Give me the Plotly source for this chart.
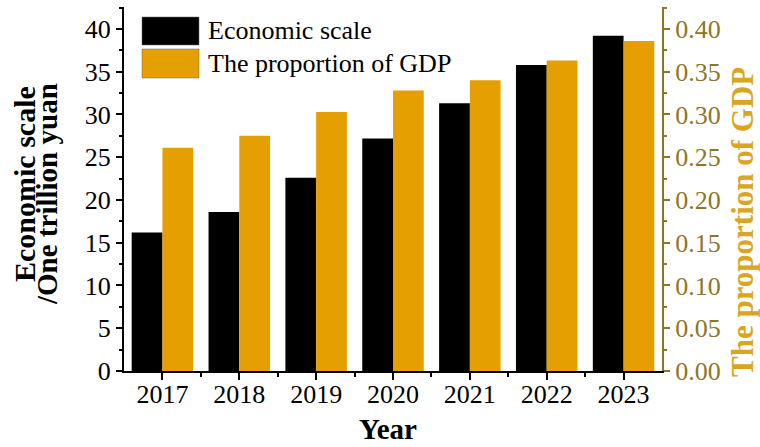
import plotly.graph_objects as go

years = [2017, 2018, 2019, 2020, 2021, 2022, 2023]
economic_scale = [16.2, 18.6, 22.6, 27.2, 31.3, 35.8, 39.2]
gdp_proportion = [0.261, 0.275, 0.303, 0.328, 0.340, 0.363, 0.386]
legend_labels = ["Economic scale", "The proportion of GDP"]

BLACK = "#000000"
ORANGE = "#E69F00"
GOLD_AXIS = "#8C7628"
GOLD_TITLE = "#DBA51E"
FONT = "Liberation Serif"

fig = go.Figure()
fig.add_trace(go.Bar(x=years, y=economic_scale, name=legend_labels[0],
                     marker=dict(color=BLACK, line=dict(width=0)),
                     offsetgroup="a", yaxis="y", showlegend=False))
fig.add_trace(go.Bar(x=years, y=gdp_proportion, name=legend_labels[1],
                     marker=dict(color=ORANGE, line=dict(width=0)),
                     offsetgroup="b", yaxis="y2", showlegend=False))

L, R, T, B = 124, 98, 7, 76
W, H = 760, 447
pw, ph = W - L - R, H - T - B

def px_x(x):
    return (x - L) / pw

def px_y(y):
    return (H - B - y) / ph

# manual legend (large swatches as in the reference)
for i, (lab, col) in enumerate(zip(legend_labels, [BLACK, ORANGE])):
    y0, y1 = [(17, 45), (49, 78)][i]
    fig.add_shape(type="rect", xref="paper", yref="paper",
                  x0=px_x(142), x1=px_x(199), y0=px_y(y1), y1=px_y(y0),
                  fillcolor=col, line=dict(color="#666666", width=0.5))
    fig.add_annotation(xref="paper", yref="paper", x=px_x(206), y=px_y((y0 + y1) / 2),
                       text=lab, showarrow=False, xanchor="left", yanchor="middle",
                       font=dict(family=FONT, size=26, color="black"))

# left axis title (two lines)
fig.add_annotation(xref="paper", yref="paper", x=px_x(24), y=px_y(184),
                   text="<b>Economic scale</b>", textangle=-90, showarrow=False,
                   xanchor="center", yanchor="middle",
                   font=dict(family=FONT, size=30, color="black"))
fig.add_annotation(xref="paper", yref="paper", x=px_x(47), y=px_y(194),
                   text="<b>/One trillion yuan</b>", textangle=-90, showarrow=False,
                   xanchor="center", yanchor="middle",
                   font=dict(family=FONT, size=29, color="black"))
# right axis title
fig.add_annotation(xref="paper", yref="paper", x=px_x(742), y=px_y(222),
                   text="<b>The proportion of GDP</b>", textangle=-90, showarrow=False,
                   xanchor="center", yanchor="middle",
                   font=dict(family=FONT, size=31, color=GOLD_TITLE))
# x axis title
fig.add_annotation(xref="paper", yref="paper", x=px_x(388), y=px_y(429),
                   text="<b>Year</b>", showarrow=False,
                   xanchor="center", yanchor="middle",
                   font=dict(family=FONT, size=29, color="black"))

fig.update_layout(
    width=W, height=H,
    margin=dict(l=L, r=R, t=T, b=B),
    paper_bgcolor="white", plot_bgcolor="white",
    barmode="group", bargap=0.2, bargroupgap=0,
    font=dict(family=FONT, size=26, color="black"),
    xaxis=dict(range=[2016.5, 2023.5], tickmode="array", tickvals=years,
               ticktext=[str(y) for y in years],
               showgrid=False, zeroline=False,
               showline=True, linecolor="black", linewidth=2,
               ticks="outside", ticklen=7, tickwidth=2, tickcolor="black",
               ticklabelstandoff=-8,
               minor=dict(tickmode="array", tickvals=[y + 0.5 for y in years[:-1]],
                          ticks="outside", ticklen=4, tickwidth=1.5, tickcolor="black"),
               tickfont=dict(family=FONT, size=26, color="black")),
    xaxis2=dict(range=[2016.5, 2023.5], overlaying="x", anchor="y", side="top",
                tickmode="array", tickvals=years, showticklabels=False,
                showgrid=False, zeroline=False,
                showline=True, linecolor="black", linewidth=2,
                ticks="inside", ticklen=7, tickwidth=2, tickcolor="black",
                minor=dict(tickmode="array", tickvals=[y + 0.5 for y in years[:-1]],
                           ticks="inside", ticklen=4, tickwidth=1.5, tickcolor="black")),
    yaxis=dict(range=[0, 42.57], tickmode="linear", tick0=0, dtick=5,
               showgrid=False, zeroline=False,
               showline=True, linecolor="black", linewidth=2,
               ticks="outside", ticklen=6, tickwidth=2, tickcolor="black",
               minor=dict(dtick=2.5, ticks="outside", ticklen=3, tickwidth=1.5,
                          tickcolor="black", showgrid=False),
               tickfont=dict(family=FONT, size=26, color="black")),
    yaxis2=dict(range=[0, 0.4257], overlaying="y", side="right", anchor="x",
                tickmode="linear", tick0=0, dtick=0.05, tickformat=".2f",
                showgrid=False, zeroline=False,
                showline=True, linecolor=GOLD_AXIS, linewidth=2,
                ticks="outside", ticklen=6, tickwidth=2, tickcolor=GOLD_AXIS,
                minor=dict(dtick=0.025, ticks="outside", ticklen=3, tickwidth=1.5,
                           tickcolor=GOLD_AXIS, showgrid=False),
                tickfont=dict(family=FONT, size=26, color=GOLD_AXIS)),
)

fig.write_html("out.html", config={"displayModeBar": False},
               post_script="document.body.style.margin='0';document.body.style.padding='0';")
